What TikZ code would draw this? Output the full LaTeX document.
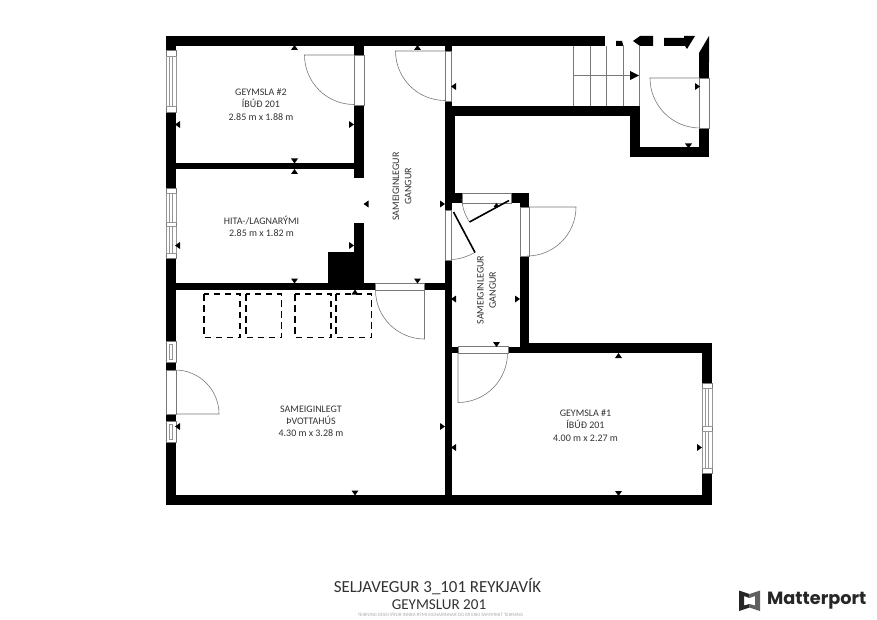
\documentclass[tikz,border=0pt]{standalone}
\usepackage{fontspec}
\setmainfont{Carlito}
\newfontfamily\logofont{Poppins}
\usepackage{xcolor}
\definecolor{edgegray}{RGB}{120, 120, 120}
\definecolor{panegray}{RGB}{150, 150, 150}
\definecolor{textgray}{RGB}{50, 50, 50}
\definecolor{notegray}{RGB}{170, 170, 170}
\definecolor{logoblack}{RGB}{38, 38, 38}
\definecolor{logogray}{RGB}{95, 95, 95}

\begin{document}
\begin{tikzpicture}[
    x=1pt, y=-1pt,
    wall/.style={fill=black, draw=none},
    gap/.style={fill=white, draw=edgegray, line width=0.5pt},
    pane/.style={draw=panegray, line width=0.5pt},
    swing/.style={draw=edgegray, line width=0.6pt},
    leaf/.style={draw=black, line width=1.6pt},
    tread/.style={draw=edgegray, line width=0.7pt},
    washer/.style={draw=black, line width=1.3pt, dash pattern=on 6.5pt off 4.5pt},
    dimtick/.style={fill=black},
    room/.style={align=center, text=textgray, font=\fontsize{10}{12.2}\selectfont}
]
\useasboundingbox (0,0) rectangle (877,620);

\foreach \xa/\ya/\xb/\yb in {
    166/36/605/46, 166/36/176/505, 166/495/712/505,
    354/36/364/178, 354/223/364/290, 176/163/354/169.5, 328/252/354/283,
    166/283/445/290, 445/36/451.5/505,
    451/106/640/116, 445/116/455/203, 445/193/529/203,
    520/193/529/353, 451/346.7/529/353, 520/343/712/353, 702/343/712/505,
    630/106/640/157, 630/147/709/157, 699/60/709/157}
  \fill[wall] (\xa,\ya) rectangle (\xb,\yb);

\fill[wall] (616,41) -- (622,41) -- (623.5,46) -- (616,46) -- cycle;
\fill[wall] (633,41) -- (640,36) -- (653,36) -- (653,46) -- (640,46) -- cycle;
\fill[wall] (664,38) -- (684,38) -- (684,36) -- (695,36) -- (687,49) -- (685,46) -- (664,46) -- cycle;
\fill[wall] (709,36) -- (709,62) -- (699,62) -- (699,53) -- cycle;

\foreach \xa/\ya/\xb/\yb in {
    166/50/176/112, 166/188/176/258, 166/341/176/362, 166/370/176/414, 166/421/176/442,
    354/55/364/105, 445/51/451.5/101, 445/210/451.5/260, 375/283/424.5/290,
    462/193/511/203, 520/207/529/256, 458/346.7/508/353, 699/78/709/128,
    702/383/712/473}
  \draw[gap] (\xa,\ya) rectangle (\xb,\yb);

\foreach \xa/\ya/\xb/\yb in {
    166/56/176/106, 166/193/176/222, 166/226/176/253,
    702/388/712/426, 702/431/712/468}
  \draw[pane] (\xa,\ya) rectangle (\xb,\yb);
\foreach \xa/\ya/\xb/\yb in {
    169.5/56/172/106, 169.5/193/172/222, 169.5/226/172/253, 169.5/344/172/359, 169.5/424/172/439,
    705.5/388/708/426, 705.5/431/708/468}
  \draw[pane] (\xa,\ya) rectangle (\xb,\yb);

\draw[swing] (354,55) -- (304.5,55) arc[start angle=180, end angle=90, radius=49.5];
\draw[swing] (445,51) -- (395.5,51) arc[start angle=180, end angle=90, radius=49.5];
\draw[swing] (700,78) -- (650,78) arc[start angle=180, end angle=90, radius=50];
\draw[swing] (529,207) -- (576,207) arc[start angle=0, end angle=90, radius=49];
\draw[swing] (424.5,290) -- (424.5,339) arc[start angle=90, end angle=180, radius=49];
\draw[swing] (176,414) -- (219,414) arc[start angle=0, end angle=-90, radius=44];
\draw[swing] (458,353) -- (458,402.5) arc[start angle=90, end angle=0, radius=49.5];
\draw[swing] (451,259.5) .. controls (460,259.5) and (468,256) .. (475,252.5);
\draw[swing] (462,199) .. controls (462,207) and (465,215) .. (469.5,222);
\draw[leaf] (453.5,212) -- (475,252.5);
\draw[leaf] (469.5,222) -- (509,200.5);

\foreach \xa/\xb in {204/240, 246/281.5, 295/331, 336/371.5}
  \draw[washer] (\xa,294) rectangle (\xb,337.5);

\foreach \sx in {573.5, 590, 606.5, 623, 639.5}
  \draw[tread] (\sx,46) -- (\sx,106);
\draw[tread] (573.5,75.5) -- (630,75.5);
\fill[dimtick] (639,75.5) -- (630,71) -- (630,80) -- cycle;

\foreach \tx/\ty in {294.5/47.5, 417.5/47.5, 294.5/171.5, 355/292, 618.5/355.5}
  \fill[dimtick] (\tx-3.5,\ty+2.5) -- (\tx+3.5,\ty+2.5) -- (\tx,\ty-2.5) -- cycle;
\foreach \tx/\ty in {294.5/161, 294.5/281, 417.5/281, 355/493, 688.5/146, 496.5/344.5, 618.5/493.5}
  \fill[dimtick] (\tx-3.5,\ty-2.5) -- (\tx+3.5,\ty-2.5) -- (\tx,\ty+2.5) -- cycle;
\foreach \tx/\ty in {177.5/124.5, 177.5/245.5, 177.5/426.5, 366/204, 453.5/86.5, 453.5/299, 453.5/447.5}
  \fill[dimtick] (\tx+2.5,\ty-3.5) -- (\tx+2.5,\ty+3.5) -- (\tx-2.5,\ty) -- cycle;
\foreach \tx/\ty in {351.5/124.5, 351.5/245.5, 442.5/204, 442.5/426.5, 697.5/86.5, 517.5/299, 699.5/447.5}
  \fill[dimtick] (\tx-2.5,\ty-3.5) -- (\tx-2.5,\ty+3.5) -- (\tx+2.5,\ty) -- cycle;
\fill[dimtick] (493.5,207) -- (499.5,207) -- (496.5,203) -- cycle;

\node[room] (geymsla2) at (261,104.5) {GEYMSLA \#2\\ÍBÚÐ 201\\2.85 m x 1.88 m};
\node[room] (hita) at (261.5,226.5) {HITA-/LAGNARÝMI\\2.85 m x 1.82 m};
\node[room] (thvottahus) at (311,421.5) {SAMEIGINLEGT\\ÞVOTTAHÚS\\4.30 m x 3.28 m};
\node[room] (geymsla1) at (585.5,425.5) {GEYMSLA \#1\\ÍBÚÐ 201\\4.00 m x 2.27 m};
\node[room, rotate=90] (gangur1) at (402,186.5) {SAMEIGINLEGUR\\GANGUR};
\node[room, rotate=90] (gangur2) at (486.5,290) {SAMEIGINLEGUR\\GANGUR};

\node[text=textgray, font=\fontsize{16.9}{18}\selectfont] (title) at (437.5,587) {SELJAVEGUR 3\_101 REYKJAVÍK};
\node[text=textgray, font=\fontsize{15.1}{16}\selectfont] (subtitle) at (439,605) {GEYMSLUR 201};
\node[text=notegray, font=\fontsize{4.9}{5}\selectfont] (note) at (440.5,614.5) {TEIKNING ÞESSI SÝNIR INNRA RÝMI EIGNARINNAR OG ER EKKI SAMÞYKKT TEIKNING};

\fill[logoblack] (739,590.5) -- (749.5,594) -- (749.5,598) -- (744,596) -- (744,605.5) -- (749.5,604) -- (749.5,607.5) -- (739,611) -- cycle;
\fill[logogray] (760,590.5) -- (749.5,594) -- (749.5,598) -- (755,596) -- (755,605.5) -- (749.5,604) -- (749.5,607.5) -- (760,611) -- cycle;
\node[text=logoblack, font=\logofont\bfseries\fontsize{17.7}{19}\selectfont, anchor=west, inner sep=0pt] (logo) at (767,600.5) {Matterport};

\end{tikzpicture}
\end{document}
